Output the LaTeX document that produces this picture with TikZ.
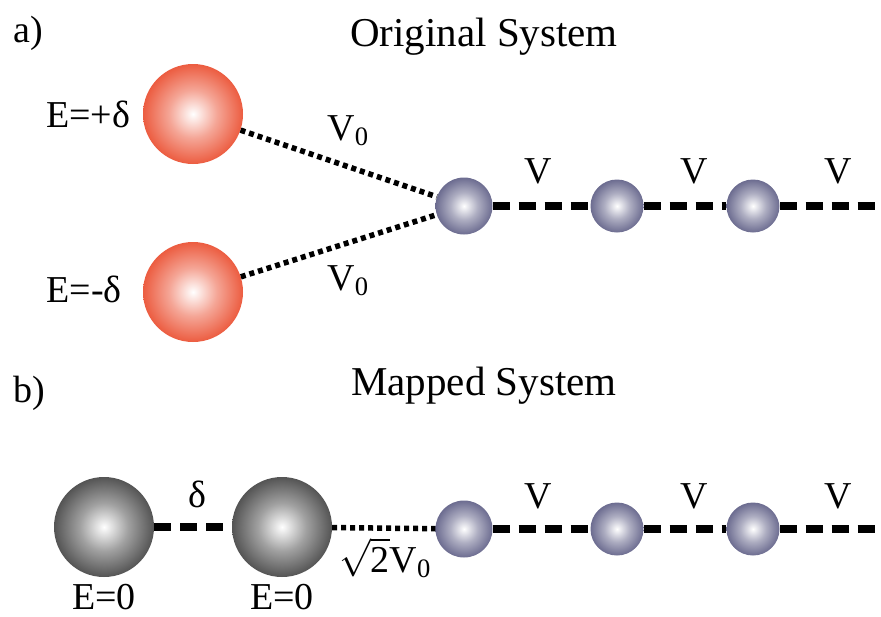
\RequirePackage{fix-cm}
\documentclass[tikz,border=0pt]{standalone}
\usepackage{fontspec}
\setmainfont{Liberation Serif}
\newfontfamily\figfont{Liberation Serif}
\usetikzlibrary{positioning}
\definecolor{ballred}{RGB}{236,92,64}
\definecolor{ballblue}{RGB}{108,108,144}
\definecolor{ballgray}{RGB}{84,84,84}
\pgfdeclareradialshading{redshade}{\pgfpoint{0bp}{0bp}}{color(0bp)=(white); color(12bp)=(ballred!55!white); color(25bp)=(ballred); color(50bp)=(ballred)}
\pgfdeclareradialshading{blueshade}{\pgfpoint{0bp}{0bp}}{color(0bp)=(white); color(12bp)=(ballblue!55!white); color(25bp)=(ballblue); color(50bp)=(ballblue)}
\pgfdeclareradialshading{grayshade}{\pgfpoint{0bp}{0bp}}{color(0bp)=(white); color(12bp)=(ballgray!55!white); color(25bp)=(ballgray); color(50bp)=(ballgray)}

\begin{document}
\begin{tikzpicture}[x=1pt, y=-1pt,
  lbl/.style={font=\figfont\fontsize{38}{40}\selectfont, inner sep=0pt, anchor=base},
  ttl/.style={font=\figfont\fontsize{41}{44}\selectfont, inner sep=0pt, anchor=base},
  redball/.style={circle, inner sep=0pt, minimum size=100pt, shading=redshade},
  grayball/.style={circle, inner sep=0pt, minimum size=100pt, shading=grayshade},
  site/.style={circle, inner sep=0pt, shading=blueshade},
  hop/.style={line width=8pt, dash pattern=on 17pt off 9pt},
  hopzero/.style={line width=5.5pt, dash pattern=on 5pt off 4pt},
]
\useasboundingbox (0,0) rectangle (881,616);
% a) Original system
\node[lbl, anchor=base west] (la) at (13,42) {a)};
\node[ttl] (ta) at (484,46) {Original System};
\node[redball] (up) at (193,114) {};
\node[redball] (dn) at (193,292) {};
\node[lbl] (eup) at (88,127) {E=+δ};
\node[lbl] (edn) at (84,302) {E=-δ};
\foreach \n/\x/\d in {1/464/57, 2/617/53, 3/753/53} {
  \node[site, minimum size=\d pt] (a\n) at (\x,206) {};
}
\coordinate (aend) at (881,206);
\draw[hopzero] (up) -- (a1);
\draw[hopzero] (dn) -- (a1);
\draw[hop] (a1) -- (a2);
\draw[hop] (a2) -- (a3);
\draw[hop] (a3) -- (aend);
\node[lbl] (vup) at (348,140) {V\textsubscript{0}};
\node[lbl] (vdn) at (348,290) {V\textsubscript{0}};
\foreach \x [count=\i] in {538,694,838} {
  \node[lbl] (va\i) at (\x,183) {V};
}
% b) Mapped system
\node[lbl, anchor=base west] (lb) at (13,402) {b)};
\node[ttl] (tb) at (484,395) {Mapped System};
\node[grayball] (g1) at (104,527) {};
\node[grayball] (g2) at (282,527) {};
\node[lbl] (e1) at (104,609) {E=0};
\node[lbl] (e2) at (282,609) {E=0};
\foreach \n/\x/\d in {1/464/57, 2/617/53, 3/753/53} {
  \node[site, minimum size=\d pt] (b\n) at (\x,529) {};
}
\coordinate (bend) at (881,529);
\draw[hop] (g1) -- (g2);
\draw[hopzero] (g2) -- (b1);
\draw[hop] (b1) -- (b2);
\draw[hop] (b2) -- (b3);
\draw[hop] (b3) -- (bend);
\node[lbl] (dl) at (197,507) {δ};
\node[lbl] (vb) at (385,572) {$\sqrt{\mbox{2}}$V\textsubscript{0}};
\foreach \x [count=\i] in {538,694,838} {
  \node[lbl] (vb\i) at (\x,508) {V};
}
\end{tikzpicture}
\end{document}
